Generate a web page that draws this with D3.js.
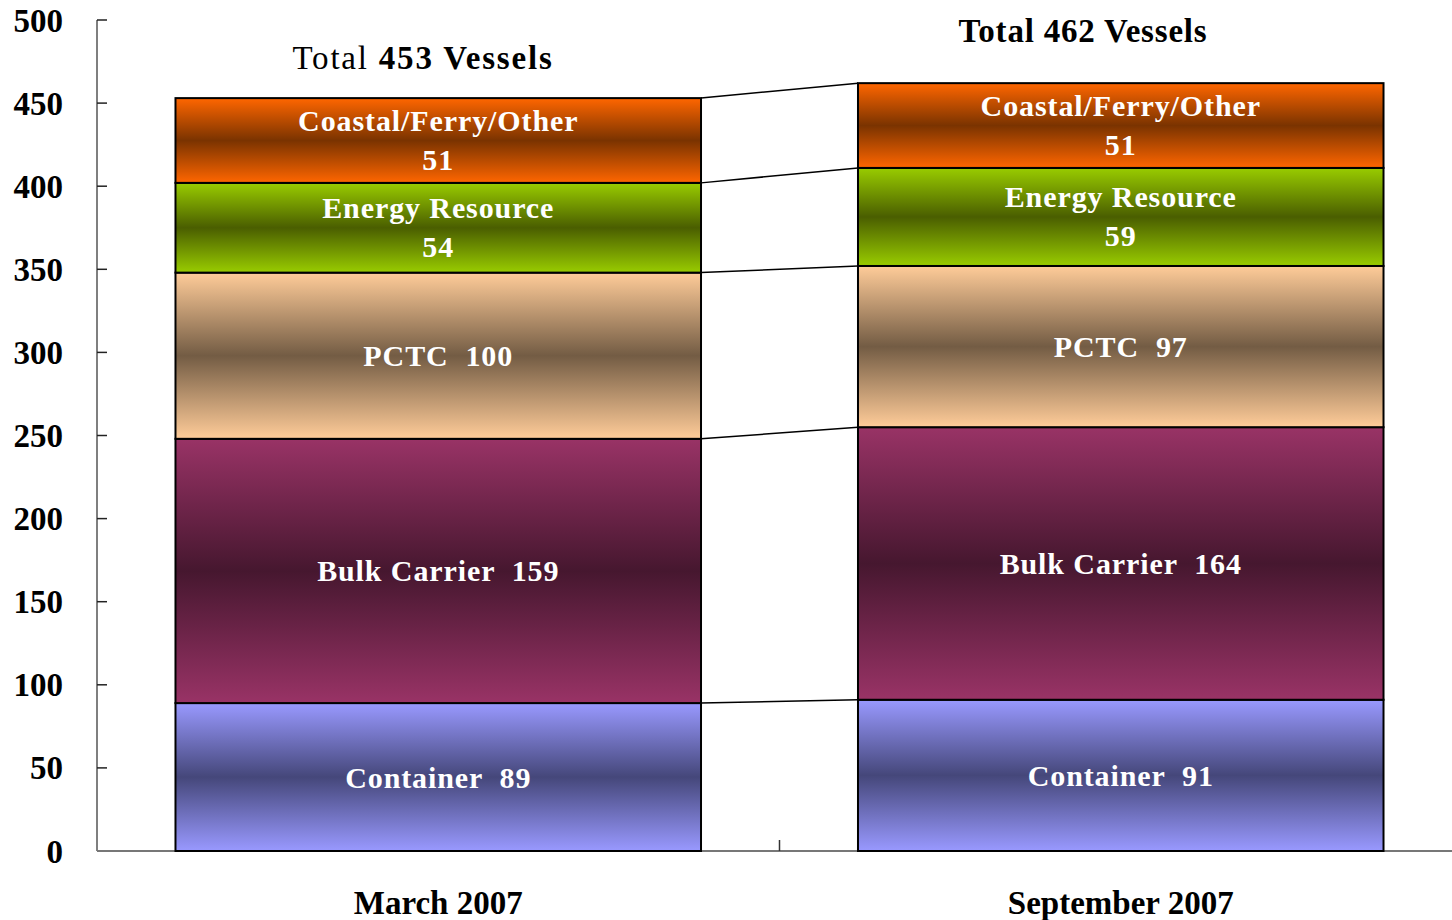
<!DOCTYPE html>
<html><head><meta charset="utf-8">
<script src="https://cdn.jsdelivr.net/npm/d3@7"></script>
<style>body{margin:0;background:#fff}svg{display:block}text{font-family:"Liberation Serif","Times New Roman",serif}</style>
</head><body><svg id="c" width="1452" height="920"></svg>
<script>
const periods = ["March 2007", "September 2007"];
const segments = ["Container", "Bulk Carrier", "PCTC", "Energy Resource", "Coastal/Ferry/Other"];
const container = [89, 91];
const bulkCarrier = [159, 164];
const pctc = [100, 97];
const energy = [54, 59];
const coastal = [51, 51];
const totals = [453, 462];
const yTicks = [0, 50, 100, 150, 200, 250, 300, 350, 400, 450, 500];
const edgeColors = ["#9999FF", "#993366", "#FFCC99", "#99CC00", "#FF6600"];
const midColors = ["#45477A", "#46172F", "#735C44", "#4A5E00", "#7A3300"];

const series = [container, bulkCarrier, pctc, energy, coastal];
const svg = d3.select("#c");
const y = d3.scaleLinear().domain([0, 500]).range([851, 20]);
const x = d3.scaleBand().domain(periods).range([97, 1462]).paddingInner(0.23).paddingOuter(0.115);

const defs = svg.append("defs");
segments.forEach((s, i) => {
  const g = defs.append("linearGradient").attr("id", "g" + i).attr("x1", 0).attr("y1", 0).attr("x2", 0).attr("y2", 1);
  g.append("stop").attr("offset", "0%").attr("stop-color", edgeColors[i]);
  g.append("stop").attr("offset", "50%").attr("stop-color", midColors[i]);
  g.append("stop").attr("offset", "100%").attr("stop-color", edgeColors[i]);
});

const stacked = periods.map((p, j) => {
  let acc = 0;
  return series.map((arr, i) => { const d = {i, p, j, v: arr[j], y0: acc, y1: acc + arr[j]}; acc += arr[j]; return d; });
});

// axes
const yAxis = svg.append("g").attr("transform", "translate(97,0)");
yAxis.append("line").attr("x1", 0).attr("x2", 0).attr("y1", y(500)).attr("y2", y(0)).attr("stroke", "#555").attr("stroke-width", 1.5);
yTicks.forEach(t => {
  yAxis.append("line").attr("x1", 0).attr("x2", 10).attr("y1", y(t)).attr("y2", y(t)).attr("stroke", "#222").attr("stroke-width", 1.5);
  yAxis.append("text").attr("x", -34).attr("y", y(t)).attr("dy", "0.35em").attr("text-anchor", "end")
    .attr("font-size", 33).attr("font-weight", "bold").text(t);
});
svg.append("line").attr("x1", 97).attr("x2", 1452).attr("y1", y(0)).attr("y2", y(0)).attr("stroke", "#777").attr("stroke-width", 2);
svg.append("line").attr("x1", 97 + x.step()).attr("x2", 97 + x.step()).attr("y1", y(0)).attr("y2", y(0) - 11).attr("stroke", "#333").attr("stroke-width", 1.5);

// connector lines
const cum = periods.map((p, j) => { let a = 0; return series.map(arr => (a += arr[j])); });
cum[0].forEach((v, i) => {
  svg.append("line").attr("x1", x(periods[0]) + x.bandwidth()).attr("x2", x(periods[1]))
    .attr("y1", y(v)).attr("y2", y(cum[1][i])).attr("stroke", "#000").attr("stroke-width", 1.5);
});

// bars
stacked.forEach(col => {
  svg.append("g").selectAll("rect").data(col).join("rect")
    .attr("x", d => x(d.p)).attr("width", x.bandwidth())
    .attr("y", d => y(d.y1)).attr("height", d => y(d.y0) - y(d.y1))
    .attr("fill", d => `url(#g${d.i})`).attr("stroke", "#000").attr("stroke-width", 2);
});

// labels
const twoLine = [false, false, false, true, true];
stacked.forEach(col => {
  col.forEach(d => {
    const cx = x(d.p) + x.bandwidth() / 2;
    const cy = (y(d.y0) + y(d.y1)) / 2;
    const t = svg.append("text").attr("x", cx).attr("text-anchor", "middle").attr("fill", "#fff")
      .attr("font-size", 30).attr("font-weight", "bold").attr("letter-spacing", 0.9);
    if (twoLine[d.i]) {
      t.append("tspan").attr("x", cx).attr("y", cy - 20).attr("dy", "0.35em").text(segments[d.i]);
      t.append("tspan").attr("x", cx).attr("y", cy + 19).attr("dy", "0.35em").text(d.v);
    } else {
      t.attr("y", cy).attr("dy", "0.35em").attr("xml:space", "preserve").text(segments[d.i] + "  " + d.v);
    }
  });
});

// totals
const t1 = svg.append("text").attr("x", 423).attr("y", 57).attr("dy", "0.35em")
  .attr("text-anchor", "middle").attr("font-size", 33).attr("letter-spacing", 1.8);
t1.append("tspan").text("Total ");
t1.append("tspan").attr("font-weight", "bold").text(totals[0] + " Vessels");
svg.append("text").attr("x", 1083).attr("y", 30).attr("dy", "0.35em")
  .attr("text-anchor", "middle").attr("font-size", 33).attr("font-weight", "bold").attr("letter-spacing", 0.8)
  .text("Total " + totals[1] + " Vessels");

// x labels
periods.forEach(p => {
  svg.append("text").attr("x", x(p) + x.bandwidth() / 2).attr("y", 902).attr("dy", "0.35em")
    .attr("text-anchor", "middle").attr("font-size", 33).attr("font-weight", "bold").text(p);
});
</script></body></html>
